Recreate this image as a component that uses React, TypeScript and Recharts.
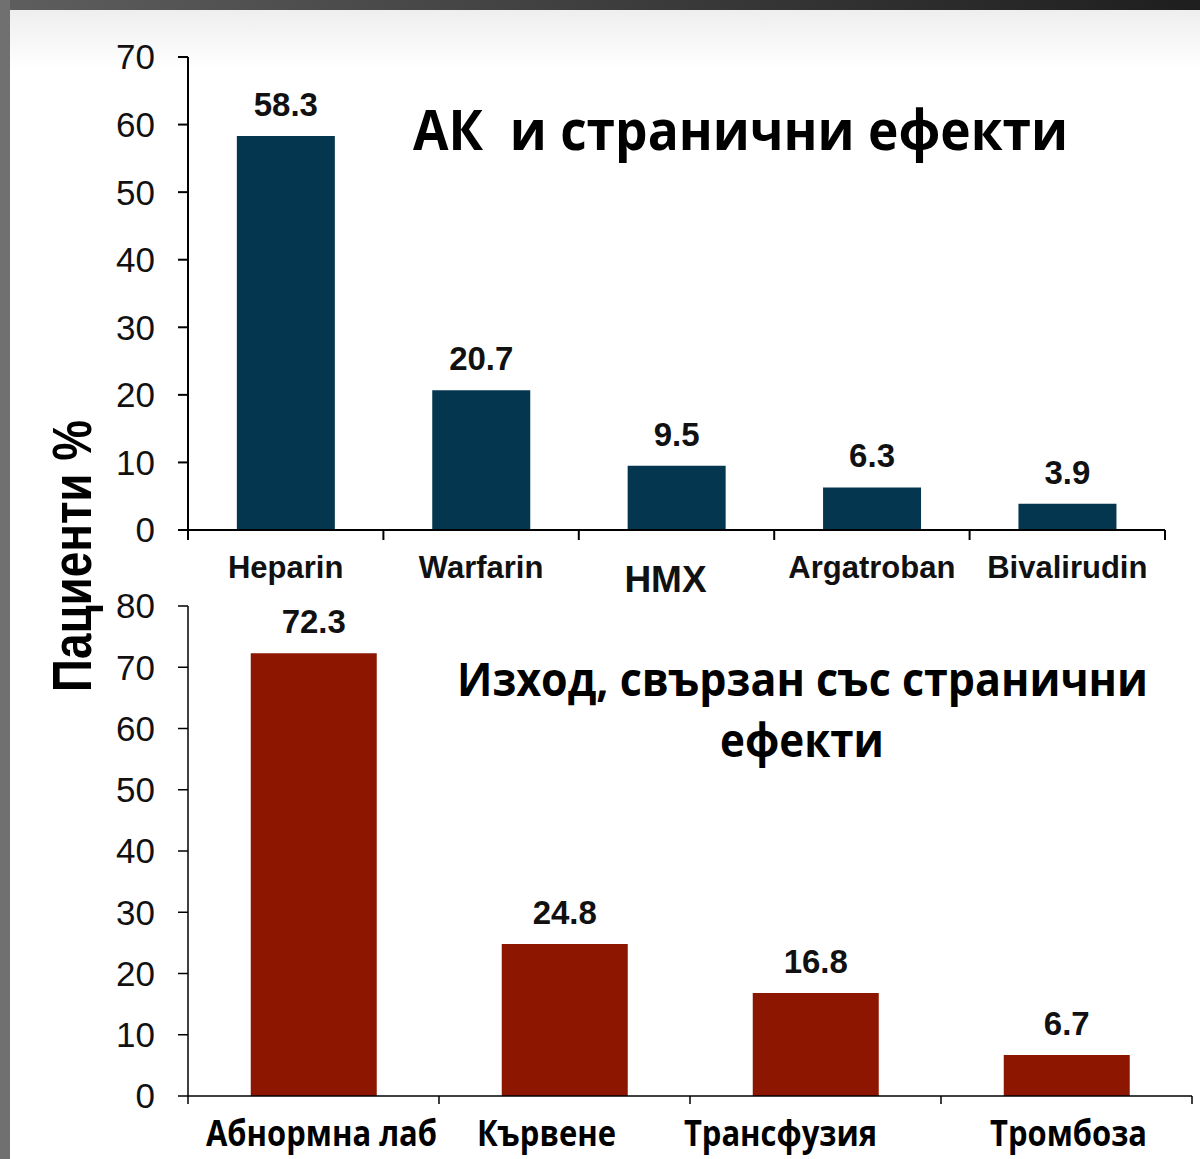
import { BarChart, Bar, XAxis, YAxis, LabelList } from "recharts";

// --- data ---
const topCategories = ["Heparin", "Warfarin", "НМХ", "Argatroban", "Bivalirudin"];
const topValues = [58.3, 20.7, 9.5, 6.3, 3.9];
const topTicks = [0, 10, 20, 30, 40, 50, 60, 70];

const bottomCategories = ["Абнормна лаб", "Кървене", "Трансфузия", "Тромбоза"];
const bottomValues = [72.3, 24.8, 16.8, 6.7];
const bottomTicks = [0, 10, 20, 30, 40, 50, 60, 70, 80];

const topData = topCategories.map((name, i) => ({ name, value: topValues[i] }));
const bottomData = bottomCategories.map((name, i) => ({ name, value: bottomValues[i] }));

const NAVY = "#05364f";
const RED = "#8c1600";
const ARIAL = "'Liberation Sans', Arial, sans-serif";
const SANS = "'Open Sans', 'Noto Sans', sans-serif";

// layout tweaks for the hand placed category labels
const TOP_DX = [0, 0, -11, 0, 0];
const TOP_BIG = [false, false, true, false, false];
const BOTTOM_DX = [8, -18, -35, 2];

const TOP_BAND = 977 / topCategories.length;
const BOTTOM_BAND = 1004 / bottomCategories.length;

const TopTick = (props: any) => {
  const { x, y, payload, index } = props;
  const big = TOP_BIG[index];
  const last = index === topCategories.length - 1;
  return (
    <g>
      <line x1={x - TOP_BAND / 2} x2={x - TOP_BAND / 2} y1={y} y2={y + 10} stroke="#000" strokeWidth={2} />
      {last && <line x1={x + TOP_BAND / 2} x2={x + TOP_BAND / 2} y1={y} y2={y + 10} stroke="#000" strokeWidth={2} />}
      <text
        x={x + TOP_DX[index]}
        y={y + (big ? 62 : 48)}
        textAnchor="middle"
        fontFamily={ARIAL}
        fontWeight="bold"
        fontSize={big ? 37 : 31}
        fill="#111"
      >
        {payload.value}
      </text>
    </g>
  );
};

const BottomTick = (props: any) => {
  const { x, y, payload, index } = props;
  const last = index === bottomCategories.length - 1;
  return (
    <g>
      <line x1={x - BOTTOM_BAND / 2} x2={x - BOTTOM_BAND / 2} y1={y} y2={y + 8} stroke="#000" strokeWidth={1.5} />
      {last && <line x1={x + BOTTOM_BAND / 2} x2={x + BOTTOM_BAND / 2} y1={y} y2={y + 8} stroke="#000" strokeWidth={1.5} />}
      <g transform={`translate(${x + BOTTOM_DX[index]}, ${y + 50}) scale(0.86, 1)`}>
        <text x={0} y={0} textAnchor="middle" fontFamily={SANS} fontWeight={700} fontSize={36} fill="#000">
          {payload.value}
        </text>
      </g>
    </g>
  );
};

const yTick = { fill: "#111", fontSize: 35, fontFamily: ARIAL };

export default function App() {
  return (
    <div
      style={{
        position: "absolute",
        left: 0,
        top: 0,
        width: 1200,
        height: 1159,
        background: "#fff",
        overflow: "hidden",
      }}
    >
      {/* slide frame */}
      <div style={{ position: "absolute", left: 10, top: 10, width: 1190, height: 60, background: "linear-gradient(#eeeeee, #ffffff)" }} />
      <div style={{ position: "absolute", left: 0, top: 0, width: 1200, height: 10, background: "linear-gradient(to right, #5e5e5e, #1e1e1e)" }} />
      <div style={{ position: "absolute", left: 0, top: 0, width: 10, height: 1159, background: "#707070" }} />

      {/* top chart */}
      <div style={{ position: "absolute", left: 0, top: 0 }}>
        <BarChart width={1200} height={600} data={topData} margin={{ top: 57, right: 35, bottom: 30, left: 0 }} barCategoryGap="25%">
          <YAxis
            width={188}
            domain={[0, 70]}
            ticks={topTicks}
            interval={0}
            tick={yTick}
            tickSize={10}
            tickMargin={23}
            axisLine={{ stroke: "#000", strokeWidth: 2 }}
            tickLine={{ stroke: "#000", strokeWidth: 2 }}
          />
          <XAxis
            dataKey="name"
            height={40}
            interval={0}
            tick={TopTick}
            tickSize={0}
            tickMargin={0}
            tickLine={false}
            axisLine={{ stroke: "#000", strokeWidth: 2 }}
          />
          <Bar dataKey="value" fill={NAVY} isAnimationActive={false}>
            <LabelList dataKey="value" position="top" offset={20} fill="#111" fontSize={33} fontWeight="bold" fontFamily={ARIAL} />
          </Bar>
        </BarChart>
      </div>

      {/* bottom chart */}
      <div style={{ position: "absolute", left: 0, top: 560 }}>
        <BarChart width={1200} height={599} data={bottomData} margin={{ top: 46, right: 8, bottom: 13, left: 0 }} barCategoryGap="25%">
          <YAxis
            width={188}
            domain={[0, 80]}
            ticks={bottomTicks}
            interval={0}
            tick={yTick}
            tickSize={10}
            tickMargin={23}
            axisLine={{ stroke: "#000", strokeWidth: 1.5 }}
            tickLine={{ stroke: "#000", strokeWidth: 1.5 }}
          />
          <XAxis
            dataKey="name"
            height={50}
            interval={0}
            tick={BottomTick}
            tickSize={0}
            tickMargin={0}
            tickLine={false}
            axisLine={{ stroke: "#000", strokeWidth: 1.5 }}
          />
          <Bar dataKey="value" fill={RED} isAnimationActive={false}>
            <LabelList dataKey="value" position="top" offset={20} fill="#111" fontSize={33} fontWeight="bold" fontFamily={ARIAL} />
          </Bar>
        </BarChart>
      </div>

      {/* titles and shared axis label */}
      <svg width={1200} height={1159} style={{ position: "absolute", left: 0, top: 0, pointerEvents: "none" }}>
        <text x={413} y={150} fontFamily={SANS} fontWeight={700} fontSize={55} textLength={655} lengthAdjust="spacingAndGlyphs" fill="#000" style={{ whiteSpace: "pre" }}>
          {"АК\u00a0\u00a0и странични ефекти"}
        </text>
        <text x={457} y={696} fontFamily={SANS} fontWeight={700} fontSize={47} textLength={691} lengthAdjust="spacingAndGlyphs" fill="#000">
          Изход, свързан със странични
        </text>
        <text x={720} y={757} fontFamily={SANS} fontWeight={700} fontSize={47} textLength={164} lengthAdjust="spacingAndGlyphs" fill="#000">
          ефекти
        </text>
        <text
          transform="translate(91, 556) rotate(-90)"
          x={0}
          y={0}
          textAnchor="middle"
          fontFamily={ARIAL}
          fontWeight="bold"
          fontSize={56}
          textLength={272}
          lengthAdjust="spacingAndGlyphs"
          fill="#000"
        >
          Пациенти %
        </text>
      </svg>
    </div>
  );
}
